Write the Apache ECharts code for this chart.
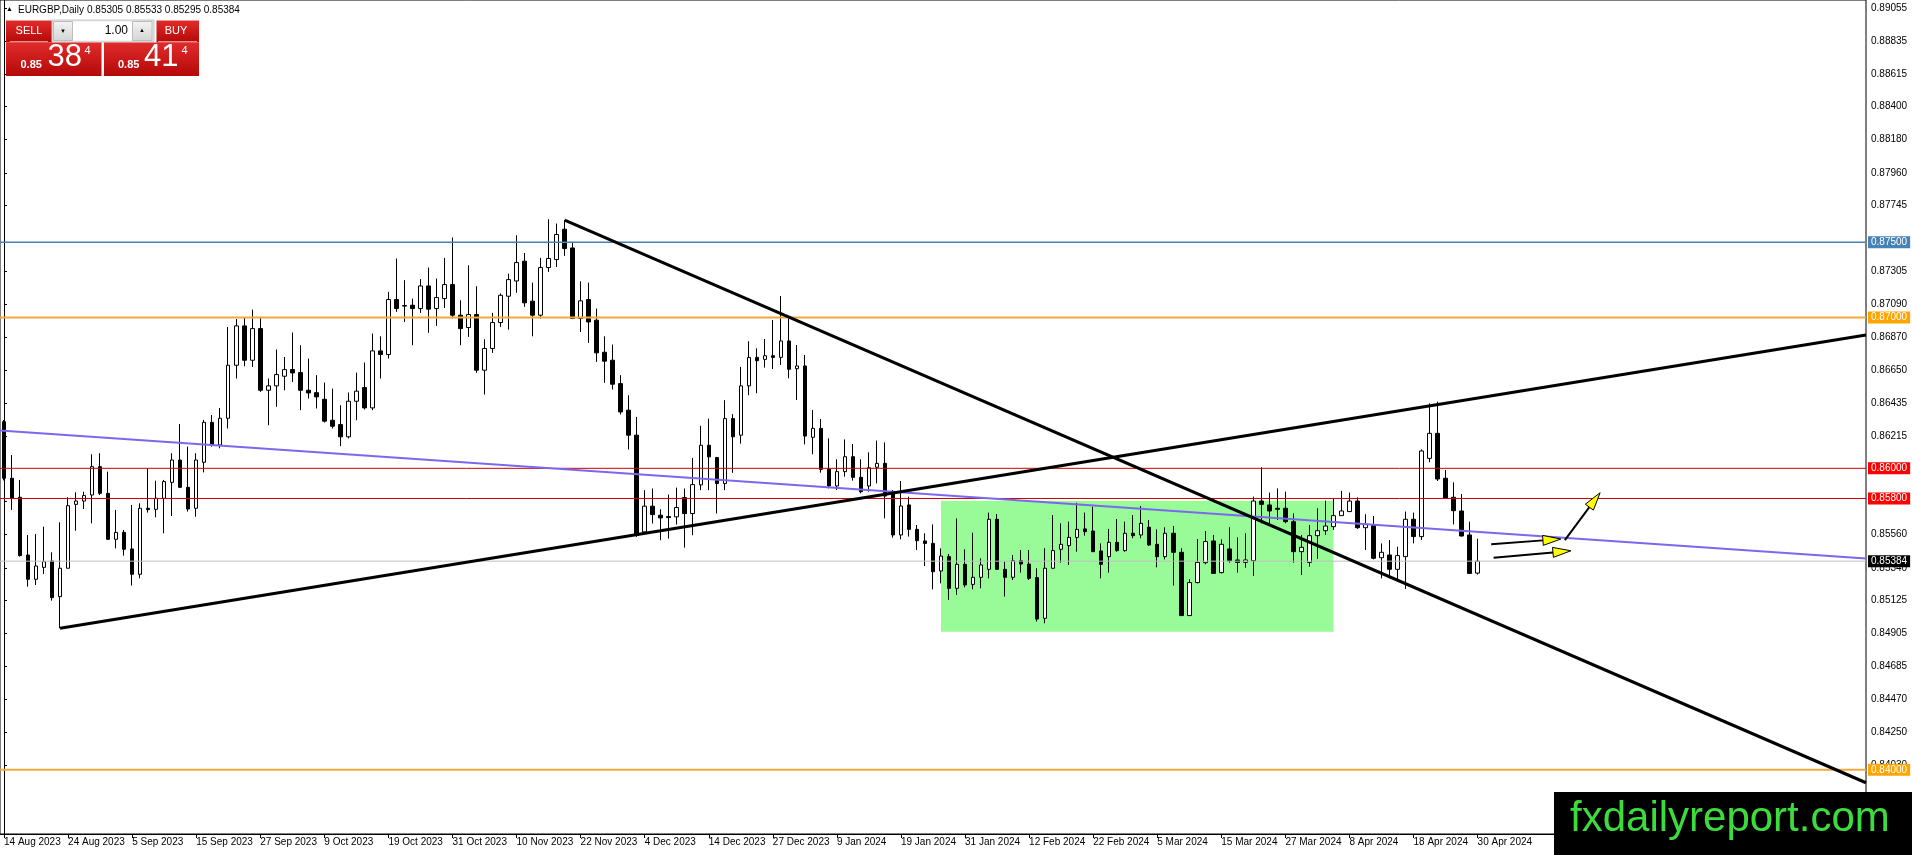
<!DOCTYPE html>
<html>
<head>
<meta charset="utf-8">
<title>EURGBP,Daily</title>
<script src="https://cdn.jsdelivr.net/npm/echarts@6.0.0/dist/echarts.min.js"></script>
<style>
html,body{margin:0;padding:0;background:#ffffff;overflow:hidden;}
#chart{width:1912px;height:855px;}
</style>
</head>
<body>
<div id="chart"></div>
<script>
// ---------------- DATA ----------------
const symbolName = 'EURGBP,Daily';
const firstTradingDay = '2023-08-14';
const marketHolidays = ['2023-12-25', '2024-01-01'];

const opens = [
0.86309,0.85934,0.85808,0.85425,0.85264,0.85343,0.85385,0.85149,0.85337,0.85761,
0.85783,0.85823,0.86011,0.85834,0.85529,0.85575,0.85465,0.85297,0.85735,0.85728,
0.85801,0.85907,0.86055,0.85874,0.85735,0.86040,0.86305,0.86155,0.86332,0.86684,
0.86945,0.86717,0.86927,0.86518,0.86547,0.86611,0.86655,0.86635,0.86518,0.86502,
0.86458,0.86319,0.86290,0.86209,0.86445,0.86536,0.86401,0.86779,0.86755,0.87120,
0.87076,0.87082,0.87060,0.87210,0.87060,0.87126,0.87219,0.87016,0.86934,0.87020,
0.86651,0.86795,0.86967,0.87142,0.87243,0.87374,0.87109,0.87016,0.87332,0.87385,
0.87586,0.87462,0.86994,0.87120,0.86983,0.86770,0.86717,0.86562,0.86386,0.86220,
0.85578,0.85749,0.85689,0.85680,0.85678,0.85806,0.85700,0.85890,0.86153,0.86071,
0.85899,0.86330,0.86220,0.86547,0.86736,0.86723,0.86747,0.86736,0.86845,0.86661,
0.86679,0.86206,0.86265,0.85996,0.85883,0.85978,0.86077,0.85940,0.85883,0.86007,
0.86033,0.85830,0.85558,0.85757,0.85595,0.85518,0.85502,0.85319,0.85414,0.85204,
0.85363,0.85230,0.85277,0.85330,0.85662,0.85330,0.85277,0.85387,0.85365,0.85275,
0.85005,0.85337,0.85463,0.85487,0.85542,0.85598,0.85584,0.85452,0.85414,0.85509,
0.85454,0.85569,0.85558,0.85609,0.85496,0.85414,0.85569,0.85443,0.85023,0.85242,
0.85374,0.85518,0.85308,0.85465,0.85392,0.85376,0.85387,0.85783,0.85757,0.85735,
0.85735,0.85646,0.85447,0.85376,0.85553,0.85586,0.85613,0.85686,0.85713,0.85783,
0.85606,0.85620,0.85407,0.85425,0.85330,0.85414,0.85662,0.85547,0.86066,0.86232,
0.85934,0.85808,0.85717,0.85558,0.85305];

const highs = [
0.86320,0.86088,0.85923,0.85558,0.85564,0.85613,0.85443,0.85642,0.85808,0.85841,
0.85845,0.86093,0.86100,0.85978,0.85724,0.85591,0.85757,0.85768,0.86000,0.85918,
0.85923,0.86100,0.86294,0.86144,0.86100,0.86321,0.86354,0.86400,0.86938,0.86990,
0.87000,0.87053,0.87005,0.86596,0.86788,0.86739,0.86901,0.86817,0.86728,0.86618,
0.86569,0.86529,0.86419,0.86503,0.86635,0.86702,0.86894,0.86876,0.87171,0.87392,
0.87248,0.87126,0.87255,0.87332,0.87259,0.87396,0.87531,0.87115,0.87347,0.87208,
0.86857,0.87031,0.87160,0.87292,0.87546,0.87429,0.87232,0.87396,0.87653,0.87624,
0.87646,0.87502,0.87241,0.87232,0.87060,0.86876,0.86821,0.86618,0.86485,0.86341,
0.85855,0.85866,0.85729,0.85826,0.85872,0.85866,0.86069,0.86282,0.86330,0.86076,
0.86452,0.86359,0.86673,0.86843,0.86796,0.86858,0.86984,0.87143,0.86995,0.86818,
0.86752,0.86387,0.86327,0.86199,0.86060,0.86192,0.86161,0.86060,0.86106,0.86184,
0.86172,0.85856,0.85916,0.85812,0.85624,0.85569,0.85628,0.85469,0.85432,0.85668,
0.85463,0.85573,0.85403,0.85706,0.85697,0.85381,0.85425,0.85458,0.85458,0.85337,
0.85470,0.85690,0.85635,0.85646,0.85772,0.85706,0.85746,0.85502,0.85598,0.85664,
0.85646,0.85690,0.85750,0.85657,0.85595,0.85609,0.85617,0.85470,0.85264,0.85531,
0.85584,0.85558,0.85529,0.85609,0.85542,0.85569,0.85812,0.86007,0.85839,0.85867,
0.85845,0.85701,0.85558,0.85624,0.85735,0.85786,0.85797,0.85850,0.85839,0.85808,
0.85695,0.85684,0.85502,0.85525,0.85480,0.85713,0.85706,0.86126,0.86431,0.86442,
0.85989,0.85907,0.85830,0.85646,0.85533];

const lows = [
0.85920,0.85724,0.85414,0.85215,0.85226,0.85299,0.85122,0.84939,0.85337,0.85586,
0.85730,0.85635,0.85823,0.85525,0.85469,0.85421,0.85222,0.85270,0.85706,0.85675,
0.85569,0.85684,0.85870,0.85713,0.85679,0.85973,0.86144,0.86133,0.86264,0.86596,
0.86677,0.86673,0.86507,0.86286,0.86408,0.86518,0.86573,0.86386,0.86463,0.86397,
0.86304,0.86264,0.86147,0.86198,0.86319,0.86390,0.86386,0.86596,0.86728,0.87038,
0.86971,0.86817,0.87031,0.86899,0.86945,0.87064,0.86994,0.86817,0.86872,0.86633,
0.86490,0.86766,0.86938,0.86920,0.87164,0.87071,0.86876,0.86994,0.87303,0.87336,
0.87409,0.86990,0.86905,0.86832,0.86706,0.86567,0.86523,0.86357,0.86125,0.85545,
0.85567,0.85634,0.85523,0.85534,0.85627,0.85474,0.85556,0.85855,0.85855,0.85700,
0.85855,0.85970,0.86164,0.86485,0.86498,0.86668,0.86659,0.86686,0.86597,0.86453,
0.86159,0.86093,0.85971,0.85867,0.85856,0.85945,0.85918,0.85834,0.85845,0.85900,
0.85668,0.85540,0.85529,0.85547,0.85458,0.85352,0.85197,0.85237,0.85127,0.85160,
0.85210,0.85197,0.85204,0.85270,0.85326,0.85149,0.85259,0.85308,0.85259,0.84983,
0.84972,0.85335,0.85374,0.85359,0.85447,0.85553,0.85445,0.85270,0.85308,0.85447,
0.85447,0.85536,0.85536,0.85485,0.85343,0.85396,0.85222,0.85020,0.85020,0.85237,
0.85363,0.85299,0.85303,0.85374,0.85308,0.85341,0.85286,0.85635,0.85635,0.85657,
0.85635,0.85374,0.85292,0.85348,0.85399,0.85558,0.85591,0.85684,0.85710,0.85598,
0.85458,0.85396,0.85270,0.85270,0.85264,0.85200,0.85502,0.85525,0.86040,0.85916,
0.85798,0.85628,0.85547,0.85300,0.85295];

const closes = [
0.85934,0.85801,0.85421,0.85264,0.85352,0.85381,0.85142,0.85337,0.85752,0.85783,
0.85819,0.86011,0.85834,0.85529,0.85575,0.85463,0.85297,0.85735,0.85726,0.85801,
0.85912,0.86055,0.85874,0.85730,0.86055,0.86305,0.86155,0.86332,0.86684,0.86945,
0.86717,0.86927,0.86518,0.86547,0.86622,0.86655,0.86633,0.86518,0.86500,0.86474,
0.86313,0.86279,0.86209,0.86445,0.86512,0.86401,0.86779,0.86755,0.87120,0.87060,
0.87080,0.87060,0.87210,0.87056,0.87133,0.87219,0.87016,0.86927,0.87020,0.86651,
0.86795,0.86967,0.87148,0.87252,0.87365,0.87098,0.87016,0.87332,0.87392,0.87551,
0.87458,0.86994,0.87111,0.86971,0.86766,0.86711,0.86558,0.86374,0.86220,0.85556,
0.85749,0.85693,0.85671,0.85673,0.85740,0.85700,0.85892,0.86153,0.86076,0.85899,
0.86330,0.86209,0.86547,0.86735,0.86714,0.86747,0.86736,0.86845,0.86657,0.86679,
0.86214,0.86265,0.85993,0.85883,0.85978,0.86077,0.85940,0.85845,0.86004,0.86033,
0.85816,0.85558,0.85750,0.85595,0.85520,0.85502,0.85314,0.85418,0.85204,0.85363,
0.85226,0.85277,0.85359,0.85662,0.85330,0.85277,0.85387,0.85365,0.85270,0.85000,
0.85337,0.85454,0.85496,0.85542,0.85595,0.85580,0.85447,0.85363,0.85509,0.85454,
0.85569,0.85553,0.85635,0.85491,0.85414,0.85569,0.85443,0.85023,0.85242,0.85376,
0.85514,0.85303,0.85496,0.85387,0.85376,0.85392,0.85783,0.85761,0.85717,0.85728,
0.85646,0.85447,0.85476,0.85553,0.85586,0.85617,0.85686,0.85717,0.85783,0.85606,
0.85628,0.85403,0.85443,0.85330,0.85421,0.85662,0.85547,0.86115,0.86232,0.85929,
0.85801,0.85719,0.85551,0.85303,0.85384];

const xTickLabels = ['14 Aug 2023','24 Aug 2023','5 Sep 2023','15 Sep 2023','27 Sep 2023','9 Oct 2023',
  '19 Oct 2023','31 Oct 2023','10 Nov 2023','22 Nov 2023','4 Dec 2023','14 Dec 2023','27 Dec 2023',
  '9 Jan 2024','19 Jan 2024','31 Jan 2024','12 Feb 2024','22 Feb 2024','5 Mar 2024','15 Mar 2024',
  '27 Mar 2024','8 Apr 2024','18 Apr 2024','30 Apr 2024'];
const xTickEvery = 8;

const yTickLabels = [0.84030,0.84250,0.84470,0.84685,0.84905,0.85125,0.85340,0.85560,0.85780,
  0.86215,0.86435,0.86650,0.86870,0.87090,0.87305,0.87745,0.87960,0.88180,0.88400,0.88615,0.88835,0.89055];
const yRange = [0.83574, 0.89107];

const levelPrices = [0.87500, 0.87000, 0.86000, 0.85800, 0.85384, 0.84000];
const bidPrice = 0.85384;
const askPrice = 0.85414;
const lotSize = '1.00';

// trend lines: [barIndex, price] pairs (bar index on the time axis)
const upTrend = [[7, 0.84939], [232.5, 0.86884]];
const downTrend = [[70, 0.87647], [232.5, 0.83914]];
const channelMidLine = [[-0.5, 0.86251], [232.5, 0.85402]];
const rangeBox = [[117, 0.85785], [166, 0.84916]];
// arrows: [fromBar, fromPrice, toBar, toPrice]
const arrowMarks = [
  [185.7, 0.85496, 194.4, 0.85531],
  [186.0, 0.85407, 195.65, 0.85453],
  [194.9, 0.85524, 199.3, 0.85838]
];
const totalSlots = 233;

// ---------------- BUILD ----------------
function tradingDays(start, n, skip) {
  const out = [];
  const d = new Date(start + 'T00:00:00Z');
  while (out.length < n) {
    const dow = d.getUTCDay();
    const s = d.toISOString().slice(0, 10);
    if (dow !== 0 && dow !== 6 && skip.indexOf(s) < 0) out.push(s);
    d.setUTCDate(d.getUTCDate() + 1);
  }
  return out;
}
const barCount = opens.length;
const dates = tradingDays(firstTradingDay, barCount, marketHolidays);
const categories = dates.slice();
for (let k = barCount; k < totalSlots; k++) categories.push('+' + k);

const candleData = opens.map((o, k) => [o, closes[k], lows[k], highs[k]]);

const showTick = (idx) => idx % xTickEvery === 0 && idx < barCount && (idx / xTickEvery) < xTickLabels.length;

const FONT = "'Liberation Sans', Arial, sans-serif";

const levelLineColors = ['#4682B4', '#F2A93B', '#CC0000', '#CC0000', '#C0C0C0', '#F2A93B'];
const levelBoxColors  = ['#4682B4', '#FFA500', '#FF0000', '#FF0000', '#000000', '#FFA500'];
const levelWidths     = [1.5, 2, 1, 1, 1, 2];

// one line series per level (two points spanning the full time axis)
const levelSeries = levelPrices.map((v, k) => ({
  name: 'level' + k, type: 'line', xAxisIndex: 1, yAxisIndex: 0, z: 4, silent: true,
  data: [[-0.5, v], [totalSlots - 0.5, v]],
  showSymbol: false, symbol: 'none',
  lineStyle: { color: levelLineColors[k], width: levelWidths[k], type: 'solid' },
  endLabel: {
    show: true, distance: 2,
    formatter: () => v.toFixed(5),
    backgroundColor: levelBoxColors[k], color: '#ffffff',
    padding: [1, 3, 0, 3], fontSize: 10, fontFamily: FONT, lineHeight: 11
  }
}));

const last = barCount - 1;
const headerValues = [opens[last], highs[last], lows[last], closes[last]].map(v => v.toFixed(5)).join(' ');

function splitQuote(p) {
  const s = p.toFixed(5);
  return { big: s.slice(0, 4), mid: s.slice(4, 6), pip: s.slice(6) };
}
const bidQ = splitQuote(bidPrice);
const askQ = splitQuote(askPrice);

const redGrad = new echarts.graphic.LinearGradient(0, 0, 0, 1, [
  { offset: 0, color: '#E12B2B' }, { offset: 1, color: '#B40808' }
]);
const greyGrad = new echarts.graphic.LinearGradient(0, 0, 0, 1, [
  { offset: 0, color: '#F4F4F4' }, { offset: 1, color: '#D4D4D4' }
]);

const graphics = [
  { type: 'text', left: 6, top: 6, z: 100, style: { text: '▲', fontSize: 7, fill: '#000', fontFamily: FONT } },
  { type: 'text', left: 18, top: 5, z: 100, style: { text: symbolName, fontSize: 10, fill: '#000', fontFamily: FONT } },
  { type: 'text', left: 87, top: 5, z: 100, style: { text: headerValues, fontSize: 10, fill: '#000', fontFamily: FONT } },
  { type: 'rect', z: 100, shape: { x: 6, y: 20.5, width: 46, height: 22 }, style: { fill: redGrad } },
  { type: 'line', z: 101, shape: { x1: 10, y1: 41.5, x2: 48, y2: 41.5 }, style: { stroke: '#F08A8A', lineWidth: 1 } },
  { type: 'text', z: 101, x: 29, y: 31, style: { text: 'SELL', fontSize: 11, fill: '#fff', fontFamily: FONT, align: 'center', verticalAlign: 'middle' } },
  { type: 'rect', z: 100, shape: { x: 52, y: 20, width: 102, height: 22 }, style: { fill: '#E6E6E6', stroke: '#C8C8C8', lineWidth: 1 } },
  { type: 'rect', z: 101, shape: { x: 53.5, y: 21.5, width: 19, height: 19 }, style: { fill: greyGrad, stroke: '#BDBDBD', lineWidth: 1 } },
  { type: 'rect', z: 101, shape: { x: 73, y: 21.5, width: 59, height: 19 }, style: { fill: '#ffffff' } },
  { type: 'rect', z: 101, shape: { x: 132.5, y: 21.5, width: 19.5, height: 19 }, style: { fill: greyGrad, stroke: '#BDBDBD', lineWidth: 1 } },
  { type: 'text', z: 102, x: 63, y: 31, style: { text: '▼', fontSize: 6, fill: '#000', fontFamily: FONT, align: 'center', verticalAlign: 'middle' } },
  { type: 'text', z: 102, x: 142, y: 30.5, style: { text: '▲', fontSize: 6, fill: '#000', fontFamily: FONT, align: 'center', verticalAlign: 'middle' } },
  { type: 'text', z: 102, x: 128, y: 31, style: { text: lotSize, fontSize: 12, fill: '#000', fontFamily: FONT, align: 'right', verticalAlign: 'middle' } },
  { type: 'rect', z: 100, shape: { x: 156.5, y: 20.5, width: 42.5, height: 22 }, style: { fill: redGrad } },
  { type: 'line', z: 101, shape: { x1: 158, y1: 41.5, x2: 197, y2: 41.5 }, style: { stroke: '#F08A8A', lineWidth: 1 } },
  { type: 'text', z: 101, x: 176, y: 31, style: { text: 'BUY', fontSize: 11, fill: '#fff', fontFamily: FONT, align: 'center', verticalAlign: 'middle' } },
  { type: 'rect', z: 100, shape: { x: 6, y: 42.5, width: 95.5, height: 33.5 }, style: { fill: redGrad } },
  { type: 'text', z: 101, x: 20.5, y: 65, style: { text: bidQ.big, fontSize: 11, fontWeight: 'bold', fill: '#fff', fontFamily: FONT, verticalAlign: 'middle' } },
  { type: 'text', z: 101, x: 47.5, y: 57.5, style: { text: bidQ.mid, fontSize: 31, fill: '#fff', fontFamily: FONT, verticalAlign: 'middle' } },
  { type: 'text', z: 101, x: 84.5, y: 51, style: { text: bidQ.pip, fontSize: 11, fill: '#fff', fontFamily: FONT, verticalAlign: 'middle' } },
  { type: 'rect', z: 100, shape: { x: 104, y: 42.5, width: 95, height: 33.5 }, style: { fill: redGrad } },
  { type: 'text', z: 101, x: 118, y: 65, style: { text: askQ.big, fontSize: 11, fontWeight: 'bold', fill: '#fff', fontFamily: FONT, verticalAlign: 'middle' } },
  { type: 'text', z: 101, x: 144, y: 57.5, style: { text: askQ.mid, fontSize: 31, fill: '#fff', fontFamily: FONT, verticalAlign: 'middle' } },
  { type: 'text', z: 101, x: 181.5, y: 51, style: { text: askQ.pip, fontSize: 11, fill: '#fff', fontFamily: FONT, verticalAlign: 'middle' } },
  { type: 'rect', z: 200, shape: { x: 1554, y: 792, width: 358, height: 63 }, style: { fill: '#000000' } },
  { type: 'text', z: 201, x: 1570, y: 819, style: { text: 'fxdailyreport.com', fontSize: 42, fill: '#3CDC3C', fontFamily: FONT, verticalAlign: 'middle' } }
];

const option = {
  animation: false,
  backgroundColor: '#ffffff',
  grid: {
    left: 0, top: 0, right: 46, bottom: 21,
    show: true, borderColor: '#000000', borderWidth: 1,
    containLabel: false, outerBoundsMode: 'none'
  },
  xAxis: [
    {
      type: 'category', data: categories, boundaryGap: true, gridIndex: 0,
      axisLine: { show: true, lineStyle: { color: '#000', width: 1 } },
      axisTick: { show: true, alignWithLabel: true, length: 4, interval: showTick, lineStyle: { color: '#000' } },
      axisLabel: {
        interval: showTick, align: 'left', margin: 3, fontSize: 10, fontFamily: FONT, color: '#000',
        formatter: (val) => { const k = dates.indexOf(val); return (k >= 0 && k % xTickEvery === 0) ? (xTickLabels[k / xTickEvery] || '') : ''; }
      },
      splitLine: { show: false }
    },
    { type: 'value', min: -0.5, max: totalSlots - 0.5, show: false, gridIndex: 0 }
  ],
  yAxis: {
    type: 'value', position: 'right', min: yRange[0], max: yRange[1], scale: true,
    axisLine: { show: true, lineStyle: { color: '#000', width: 1 } },
    axisTick: { show: true, length: 3, customValues: yTickLabels, lineStyle: { color: '#000' } },
    axisLabel: { customValues: yTickLabels, formatter: (v) => v.toFixed(5), fontSize: 10, fontFamily: FONT, color: '#000', margin: 5 },
    splitLine: { show: false }
  },
  graphic: graphics,
  series: [
    {
      name: 'range', type: 'line', xAxisIndex: 1, yAxisIndex: 0, z: 1,
      data: rangeBox, showSymbol: false, symbol: 'none', lineStyle: { opacity: 0 }, silent: true,
      markArea: { silent: true, itemStyle: { color: '#98FB98', opacity: 1 },
        data: [[{ coord: rangeBox[0] }, { coord: rangeBox[1] }]] }
    },
    {
      name: 'EURGBP', type: 'candlestick', xAxisIndex: 0, yAxisIndex: 0, z: 3,
      data: candleData, barWidth: 4,
      itemStyle: { color: '#ffffff', color0: '#000000', borderColor: '#000000', borderColor0: '#000000', borderWidth: 1 }
    }
  ].concat(levelSeries).concat([
    {
      name: 'mid', type: 'line', xAxisIndex: 1, yAxisIndex: 0, z: 4, data: channelMidLine,
      showSymbol: false, symbol: 'none', lineStyle: { color: '#7B68EE', width: 2 }, silent: true
    },
    {
      name: 'up', type: 'line', xAxisIndex: 1, yAxisIndex: 0, z: 5, data: upTrend,
      showSymbol: false, symbol: 'none', lineStyle: { color: '#000000', width: 3 }, silent: true
    },
    {
      name: 'down', type: 'line', xAxisIndex: 1, yAxisIndex: 0, z: 5, data: downTrend,
      showSymbol: false, symbol: 'none', lineStyle: { color: '#000000', width: 3 }, silent: true
    },
    {
      name: 'arrows', type: 'custom', xAxisIndex: 1, yAxisIndex: 0, z: 6, silent: true,
      data: arrowMarks,
      encode: { x: [0, 2], y: [1, 3] },
      renderItem: function (params, api) {
        const a = api.coord([api.value(0), api.value(1)]);
        const b = api.coord([api.value(2), api.value(3)]);
        const dx = b[0] - a[0], dy = b[1] - a[1];
        const len = Math.sqrt(dx * dx + dy * dy) || 1;
        const ux = dx / len, uy = dy / len;
        const headLen = 18, headHalf = 5;
        const base = [b[0] - ux * headLen, b[1] - uy * headLen];
        const l = [base[0] - uy * headHalf, base[1] + ux * headHalf];
        const r = [base[0] + uy * headHalf, base[1] - ux * headHalf];
        return {
          type: 'group',
          children: [
            { type: 'line', shape: { x1: a[0], y1: a[1], x2: base[0], y2: base[1] }, style: { stroke: '#000', lineWidth: 2 } },
            { type: 'polygon', shape: { points: [b, l, r] }, style: { fill: '#FFFF00', stroke: '#000', lineWidth: 1 } }
          ]
        };
      }
    }
  ])
};

const chart = echarts.init(document.getElementById('chart'), null, { renderer: 'canvas', width: 1912, height: 855 });
chart.setOption(option);
</script>
</body>
</html>
